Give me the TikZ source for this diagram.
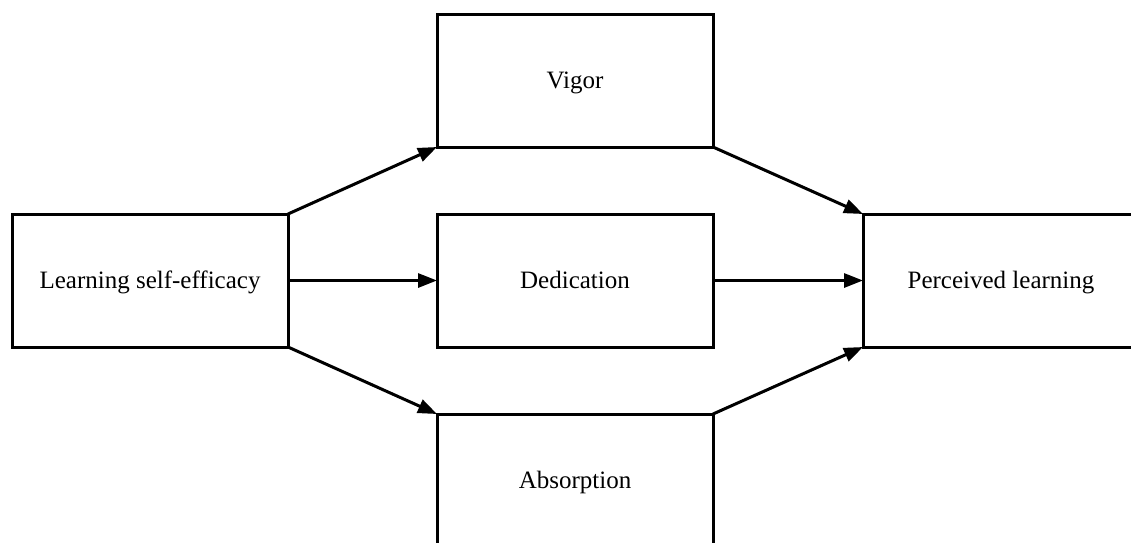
\documentclass[tikz,border=0pt]{standalone}
\usepackage{fontspec}
\setmainfont{Liberation Serif}
\usetikzlibrary{arrows.meta}
\tikzset{
  box/.style={draw=black, line width=3pt, fill=white, minimum width=276pt, minimum height=133pt, inner sep=0pt, outer sep=0pt, text height=19pt, text depth=4pt, font=\fontsize{25}{30}\selectfont},
  arr/.style={line width=3pt, -{Triangle[length=19pt,width=14pt]}}
}
\begin{document}
\begin{tikzpicture}[x=1pt,y=-1pt]
\useasboundingbox (0,0) rectangle (1131,542);
\clip (0,0) rectangle (1131,542);
\fill[white] (0,0) rectangle (1131,542);
\node[box] (lse) at (150,280.5) {Learning self-efficacy};
\node[box] (vig) at (575,80.5) {Vigor};
\node[box] (ded) at (575,280.5) {Dedication};
\node[box] (abs) at (575,480.5) {Absorption};
\node[box] (pl) at (1001,280.5) {Perceived learning};
\draw[arr] (lse.north east) -- (vig.south west);
\draw[arr] (lse.east) -- (ded.west);
\draw[arr] (lse.south east) -- (abs.north west);
\draw[arr] (vig.south east) -- (pl.north west);
\draw[arr] (ded.east) -- (pl.west);
\draw[arr] (abs.north east) -- (pl.south west);
\end{tikzpicture}
\end{document}
